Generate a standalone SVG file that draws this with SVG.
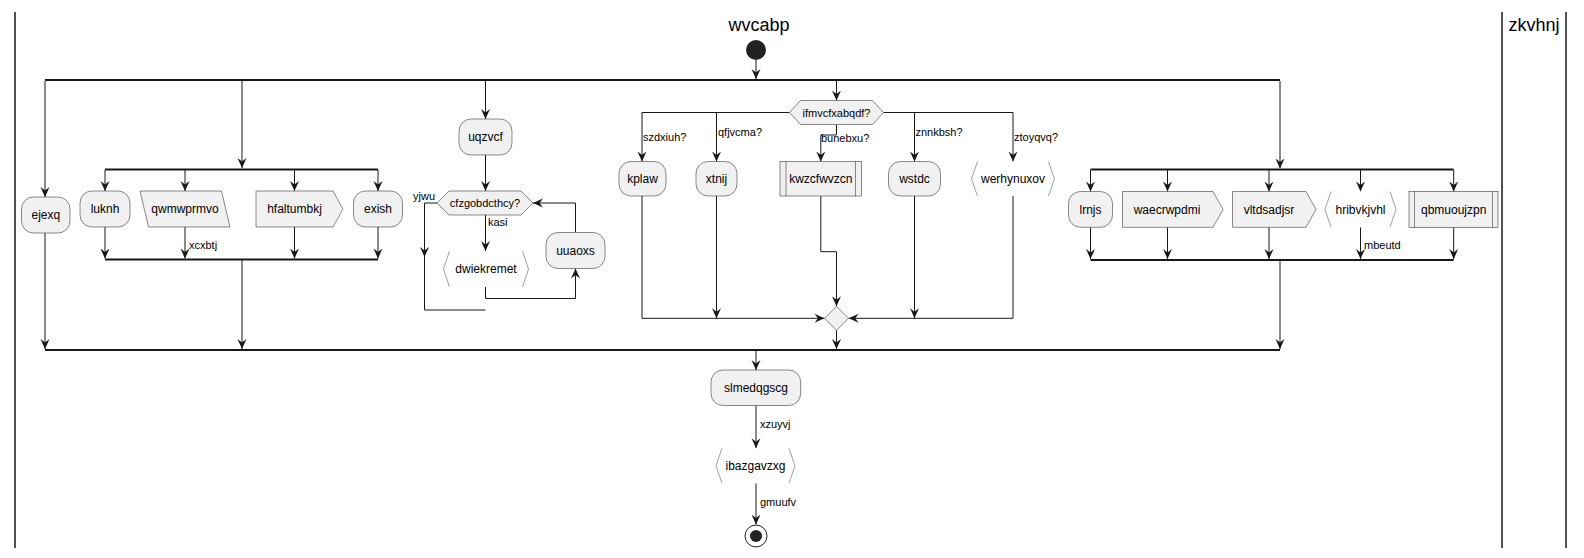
<svg xmlns="http://www.w3.org/2000/svg" width="1584" height="558" viewBox="0 0 1584 558">
<defs>
<style>
.box{fill:#F1F1F1;stroke:#181818;stroke-width:0.5}
.chev{fill:none;stroke:#888888;stroke-width:0.8}
.t{font-family:"Liberation Sans",Arial,sans-serif;font-size:12px;fill:#000000;text-anchor:middle}
.lbl{font-family:"Liberation Sans",Arial,sans-serif;font-size:11px;fill:#000000}
.dt{font-family:"Liberation Sans",Arial,sans-serif;font-size:11px;fill:#000000;text-anchor:middle}
.lane{font-family:"Liberation Sans",Arial,sans-serif;font-size:18px;fill:#000000;text-anchor:middle}
.c{fill:none;stroke:#181818;stroke-width:1}
.bar{stroke:#181818;stroke-width:2.2}
.ll{stroke:#181818;stroke-width:1.5}
</style>
<marker id="ah" viewBox="0 -5 11 10" refX="10" refY="0" markerWidth="11" markerHeight="10" markerUnits="userSpaceOnUse" orient="auto">
<path d="M0,-4.5 L10,0 L0,4.5 L3.5,0 Z" fill="#181818"/>
</marker>
</defs>
<rect width="1584" height="558" fill="#FFFFFF"/>

<g id="lanes">
<line class="ll" x1="15" y1="12" x2="15" y2="548"/>
<line class="ll" x1="1502" y1="12" x2="1502" y2="548"/>
<line class="ll" x1="1566" y1="12" x2="1566" y2="548"/>
<text class="lane" x="759" y="31">wvcabp</text>
<text class="lane" x="1534" y="31">zkvhnj</text>
</g>

<g id="connectors">
<path class="c" d="M756,60 L756,79" marker-end="url(#ah)"/>
<line class="bar" x1="45" y1="80" x2="1280" y2="80"/>
<path class="c" d="M45,81 L45,197" marker-end="url(#ah)"/>
<path class="c" d="M242,81 L242,168" marker-end="url(#ah)"/>
<path class="c" d="M485.5,81 L485.5,119" marker-end="url(#ah)"/>
<path class="c" d="M836.5,81 L836.5,100.5" marker-end="url(#ah)"/>
<path class="c" d="M1280,81 L1280,168.5" marker-end="url(#ah)"/>

<path class="c" d="M45,233 L45,349" marker-end="url(#ah)"/>

<line class="bar" x1="105" y1="169.5" x2="378" y2="169.5"/>
<path class="c" d="M105,170 L105,191" marker-end="url(#ah)"/>
<path class="c" d="M185,170 L185,191" marker-end="url(#ah)"/>
<path class="c" d="M294.5,170 L294.5,191" marker-end="url(#ah)"/>
<path class="c" d="M378,170 L378,191" marker-end="url(#ah)"/>
<path class="c" d="M105,227 L105,258.5" marker-end="url(#ah)"/>
<path class="c" d="M185,227 L185,258.5" marker-end="url(#ah)"/>
<path class="c" d="M294.5,227 L294.5,258.5" marker-end="url(#ah)"/>
<path class="c" d="M378,227 L378,258.5" marker-end="url(#ah)"/>
<text class="lbl" x="189" y="249">xcxbtj</text>
<line class="bar" x1="105" y1="259.5" x2="378" y2="259.5"/>
<path class="c" d="M242,260 L242,349" marker-end="url(#ah)"/>

<path class="c" d="M485.5,155 L485.5,191" marker-end="url(#ah)"/>
<path class="c" d="M437,203 L424.5,203 L424.5,310 L485.5,310"/>
<path class="c" d="M424.5,240 L424.5,257" marker-end="url(#ah)"/>
<text class="lbl" x="413" y="200">yjwu</text>
<path class="c" d="M485.5,215 L485.5,251" marker-end="url(#ah)"/>
<text class="lbl" x="488" y="226">kasi</text>
<path class="c" d="M485.5,287 L485.5,298.5 L575.5,298.5 L575.5,268.5" marker-end="url(#ah)"/>
<path class="c" d="M575.5,232.5 L575.5,203 L533,203" marker-end="url(#ah)"/>

<path class="c" d="M789.5,112.5 L642,112.5 L642,161.5" marker-end="url(#ah)"/>
<path class="c" d="M716.5,112.5 L716.5,161.5" marker-end="url(#ah)"/>
<path class="c" d="M836.5,124.5 L836.5,135 L820.8,135 L820.8,161.5" marker-end="url(#ah)"/>
<path class="c" d="M883.5,112.5 L1013,112.5 L1013,161.5" marker-end="url(#ah)"/>
<path class="c" d="M914.5,112.5 L914.5,161.5" marker-end="url(#ah)"/>
<text class="lbl" x="643" y="141">szdxiuh?</text>
<text class="lbl" x="718" y="136">qfjvcma?</text>
<text class="lbl" x="821" y="142">bunebxu?</text>
<text class="lbl" x="915.5" y="136">znnkbsh?</text>
<text class="lbl" x="1014" y="141">ztoyqvq?</text>
<path class="c" d="M642,196 L642,318.3 L824.5,318.3" marker-end="url(#ah)"/>
<path class="c" d="M716.5,196 L716.5,318.3" marker-end="url(#ah)"/>
<path class="c" d="M820.8,196 L820.8,251.7 L836.5,251.7 L836.5,306.3" marker-end="url(#ah)"/>
<path class="c" d="M914.5,196 L914.5,318.3" marker-end="url(#ah)"/>
<path class="c" d="M1013,196 L1013,318.3 L848.7,318.3" marker-end="url(#ah)"/>
<path class="c" d="M836.5,330.3 L836.5,349" marker-end="url(#ah)"/>

<line class="bar" x1="1090.5" y1="169.5" x2="1453.7" y2="169.5"/>
<path class="c" d="M1090.5,170 L1090.5,191.5" marker-end="url(#ah)"/>
<path class="c" d="M1167.5,170 L1167.5,191.5" marker-end="url(#ah)"/>
<path class="c" d="M1269,170 L1269,191.5" marker-end="url(#ah)"/>
<path class="c" d="M1360.5,170 L1360.5,191.5" marker-end="url(#ah)"/>
<path class="c" d="M1453.7,170 L1453.7,191.5" marker-end="url(#ah)"/>
<path class="c" d="M1090.5,227.3 L1090.5,259" marker-end="url(#ah)"/>
<path class="c" d="M1167.5,227.3 L1167.5,259" marker-end="url(#ah)"/>
<path class="c" d="M1269,227.3 L1269,259" marker-end="url(#ah)"/>
<path class="c" d="M1360.5,227.3 L1360.5,259" marker-end="url(#ah)"/>
<path class="c" d="M1453.7,227.3 L1453.7,259" marker-end="url(#ah)"/>
<text class="lbl" x="1364" y="249">mbeutd</text>
<line class="bar" x1="1090.5" y1="260" x2="1453.7" y2="260"/>
<path class="c" d="M1280,260.5 L1280,349" marker-end="url(#ah)"/>

<line class="bar" x1="45" y1="350" x2="1280" y2="350"/>
<path class="c" d="M756,351 L756,370" marker-end="url(#ah)"/>
<path class="c" d="M756,405.5 L756,448.3" marker-end="url(#ah)"/>
<text class="lbl" x="760" y="428">xzuyvj</text>
<path class="c" d="M756,483.3 L756,524.5" marker-end="url(#ah)"/>
<text class="lbl" x="760" y="506">gmuufv</text>
</g>

<g id="start"><circle cx="756" cy="50" r="10" fill="#222222"/></g>

<g id="ejexq"><rect class="box" x="21.5" y="197" width="48.5" height="36" rx="12"/><text class="t" x="45.8" y="219">ejexq</text></g>
<g id="luknh"><rect class="box" x="80" y="191" width="50" height="36" rx="12"/><text class="t" x="105" y="213">luknh</text></g>
<g id="qwmwprmvo"><polygon class="box" points="140,191 221.5,191 230,227 148.5,227"/><text class="t" x="185" y="213">qwmwprmvo</text></g>
<g id="hfaltumbkj"><polygon class="box" points="256,191 333,191 343,209 333,227 256,227"/><text class="t" x="294.5" y="213">hfaltumbkj</text></g>
<g id="exish"><rect class="box" x="353.5" y="191" width="49" height="36" rx="12"/><text class="t" x="378" y="213">exish</text></g>

<g id="uqzvcf"><rect class="box" x="459" y="119" width="53" height="36" rx="12"/><text class="t" x="485.5" y="141">uqzvcf</text></g>
<g id="cfzgobdcthcy"><polygon class="box" points="437,203 449,191 521,191 533,203 521,215 449,215"/><text class="dt" x="485" y="207">cfzgobdcthcy?</text></g>
<g id="dwiekremet"><polygon points="449.5,251 522.5,251 528.5,269 522.5,287 449.5,287 443.5,269" fill="#FFFFFF"/><polyline class="chev" points="449.5,251 443.5,269 449.5,287"/><polyline class="chev" points="522.5,251 528.5,269 522.5,287"/><text class="t" x="486" y="273">dwiekremet</text></g>
<g id="uuaoxs"><rect class="box" x="546" y="232.5" width="59" height="36" rx="12"/><text class="t" x="575.5" y="254.5">uuaoxs</text></g>

<g id="ifmvcfxabqdf"><polygon class="box" points="789.5,112.5 800.5,100.5 872.5,100.5 883.5,112.5 872.5,124.5 800.5,124.5"/><text class="dt" x="836.5" y="116.5">ifmvcfxabqdf?</text></g>
<g id="kplaw"><rect class="box" x="619" y="161.5" width="47" height="34.5" rx="12"/><text class="t" x="642.5" y="183">kplaw</text></g>
<g id="xtnij"><rect class="box" x="696" y="161.5" width="41" height="34.5" rx="12"/><text class="t" x="716.5" y="183">xtnij</text></g>
<g id="kwzcfwvzcn"><rect class="box" x="780" y="161.5" width="81.5" height="34.5"/><line class="box" x1="786" y1="161.5" x2="786" y2="196"/><line class="box" x1="855.5" y1="161.5" x2="855.5" y2="196"/><text class="t" x="820.8" y="183">kwzcfwvzcn</text></g>
<g id="wstdc"><rect class="box" x="888.5" y="161.5" width="52" height="34.5" rx="12"/><text class="t" x="914.5" y="183">wstdc</text></g>
<g id="werhynuxov"><polygon points="977.5,161.5 1048.5,161.5 1054.5,179 1048.5,196 977.5,196 971.5,179" fill="#FFFFFF"/><polyline class="chev" points="977.5,161.5 971.5,179 977.5,196"/><polyline class="chev" points="1048.5,161.5 1054.5,179 1048.5,196"/><text class="t" x="1013" y="183">werhynuxov</text></g>
<g id="merge"><polygon class="box" points="836.5,306.3 848.5,318.3 836.5,330.3 824.5,318.3"/></g>

<g id="lrnjs"><rect class="box" x="1068.5" y="191.5" width="44" height="35.8" rx="12"/><text class="t" x="1090.5" y="213.5">lrnjs</text></g>
<g id="waecrwpdmi"><polygon class="box" points="1122.5,191.5 1213,191.5 1223,209.4 1213,227.3 1122.5,227.3"/><text class="t" x="1167" y="213.5">waecrwpdmi</text></g>
<g id="vltdsadjsr"><polygon class="box" points="1232.5,191.5 1306,191.5 1316,209.4 1306,227.3 1232.5,227.3"/><text class="t" x="1269" y="213.5">vltdsadjsr</text></g>
<g id="hribvkjvhl"><polygon points="1331,191.5 1390,191.5 1396,209.4 1390,227.3 1331,227.3 1325,209.4" fill="#FFFFFF"/><polyline class="chev" points="1331,191.5 1325,209.4 1331,227.3"/><polyline class="chev" points="1390,191.5 1396,209.4 1390,227.3"/><text class="t" x="1360.5" y="213.5">hribvkjvhl</text></g>
<g id="qbmuoujzpn"><rect class="box" x="1409" y="191.5" width="89" height="35.8"/><line class="box" x1="1414.5" y1="191.5" x2="1414.5" y2="227.3"/><line class="box" x1="1492.5" y1="191.5" x2="1492.5" y2="227.3"/><text class="t" x="1453.7" y="213.5">qbmuoujzpn</text></g>

<g id="slmedqgscg"><rect class="box" x="711" y="370" width="89.7" height="35.5" rx="12"/><text class="t" x="756" y="392">slmedqgscg</text></g>
<g id="ibazgavzxg"><polygon points="722,448.3 789,448.3 795,465.8 789,483.3 722,483.3 716,465.8" fill="#FFFFFF"/><polyline class="chev" points="722,448.3 716,465.8 722,483.3"/><polyline class="chev" points="789,448.3 795,465.8 789,483.3"/><text class="t" x="755.5" y="470">ibazgavzxg</text></g>
<g id="end"><circle cx="756" cy="536" r="11" fill="#FFFFFF" stroke="#222222" stroke-width="1"/><circle cx="756" cy="536" r="6" fill="#222222"/></g>
</svg>
